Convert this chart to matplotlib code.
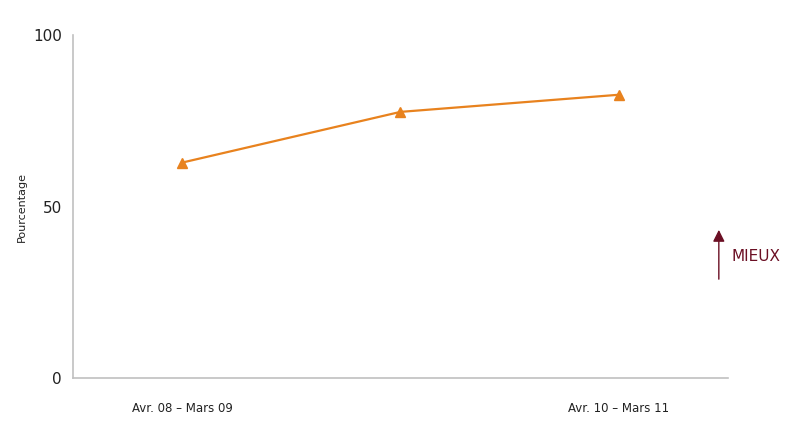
import matplotlib
matplotlib.use("Agg")
import matplotlib.pyplot as plt

categories = ["Avr. 08 – Mars 09", "", "Avr. 10 – Mars 11"]
values = [62.8, 77.6, 82.6]
yticks = [0, 50, 100]

fig = plt.figure(figsize=(8, 4.28), dpi=100)
ax = fig.add_axes([0.091, 0.117, 0.819, 0.801])
x = list(range(len(categories)))
ax.plot(x, values, color="#e8821e", lw=1.6, marker="^", ms=7, mec="#e8821e", mfc="#e8821e")
ax.set_xlim(-0.5, 2.5)
ax.set_ylim(0, 100)
ax.set_xticks(x)
ax.set_xticklabels(categories, fontsize=8.5, color="#222222")
ax.set_yticks(yticks)
ax.set_yticklabels([str(t) for t in yticks], fontsize=11, color="#222222")
ax.tick_params(axis="both", length=0)
ax.tick_params(axis="x", pad=17)
ax.tick_params(axis="y", pad=8)
for s in ["top", "right"]:
    ax.spines[s].set_visible(False)
for s in ["left", "bottom"]:
    ax.spines[s].set_color("#c0c0c0")
    ax.spines[s].set_linewidth(1.2)
ax.set_ylabel("Pourcentage", fontsize=8, color="#222222", labelpad=4)

ax.annotate("", xy=(0.986, 0.44), xytext=(0.986, 0.28), xycoords="axes fraction",
            arrowprops=dict(arrowstyle="-|>,head_length=0.7,head_width=0.35", color="#6b0f24", lw=1))
ax.text(1.005, 0.355, "MIEUX", transform=ax.transAxes, fontsize=11, color="#6b0f24",
        ha="left", va="center", clip_on=False)

fig.savefig("out.png", dpi=100)
